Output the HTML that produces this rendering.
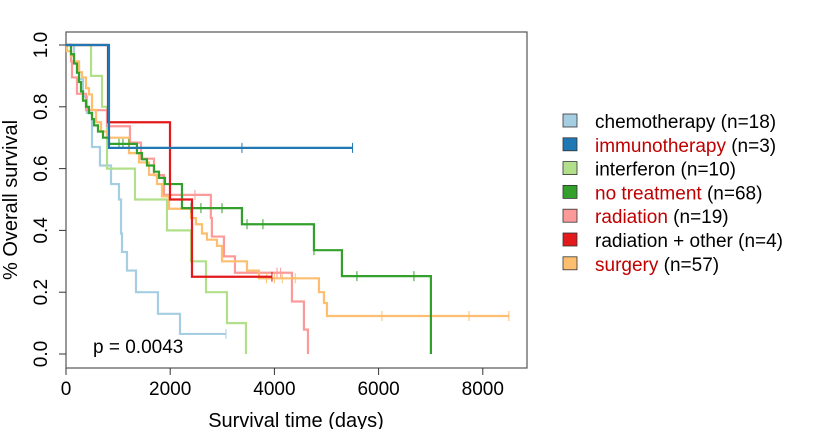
<!DOCTYPE html>
<html><head><meta charset="utf-8"><style>
body{margin:0;background:#fff;width:820px;height:429px;overflow:hidden}
text{font-family:"Liberation Sans",Arial,sans-serif}
</style></head><body>
<svg id="chart" width="820" height="429" xmlns="http://www.w3.org/2000/svg">
<rect x="66" y="32" width="461" height="336" fill="none" stroke="#555" stroke-width="1.2"/>
<g id="axes"></g><g id="curves"></g><g id="legend"></g>
<text x="93" y="353" font-size="19">p = 0.0043</text>
<text x="296" y="427" font-size="20" text-anchor="middle">Survival time (days)</text>
<text transform="translate(17,200) rotate(-90)" font-size="20" text-anchor="middle">% Overall survival</text>
</svg>
<script>
const xTicks=[0,2000,4000,6000,8000];
const yTicks=[0,0.2,0.4,0.6,0.8,1.0];
const groups=["chemotherapy","immunotherapy","interferon","no treatment","radiation","radiation + other","surgery"];
const counts=[18,3,10,68,19,4,57];
const colors=["#a6cee3","#1f78b4","#b2df8a","#33a02c","#fb9a99","#e31a1c","#fdbf6f"];
const redName=[false,true,false,true,true,false,true];
const chemoT=[154,250,326,403,499,652,864,1017,1056,1075,1171,1343,1765,2188];
const chemoS=[0.944,0.889,0.833,0.78,0.67,0.61,0.55,0.5,0.39,0.33,0.27,0.2,0.13,0.065];
const chemoEnd=3070, chemoC=[3070];
const immT=[825], immS=[0.667], immEnd=5500, immC=[3377,5500];
const ifnT=[480,691,787,1324,1938,2399,2687,3090,3454];
const ifnS=[0.9,0.8,0.6,0.5,0.4,0.3,0.2,0.1,0];
const ifnEnd=3454, ifnC=[];
const noT=[96,154,211,250,288,326,384,441,499,537,614,710,825,1362,1458,1554,1689,1785,1900,2226,3377,4759,5296,7004];
const noS=[0.97,0.94,0.91,0.88,0.85,0.82,0.80,0.78,0.76,0.74,0.72,0.70,0.68,0.65,0.63,0.61,0.59,0.57,0.55,0.472,0.42,0.336,0.252,0];
const noEnd=7004, noC=[1017,1094,1209,2400,2590,2994,3474,3780,4759,5584,6678];
const radT=[96,115,211,384,787,1228,1439,1689,1880,2780,2800,3032,3243,4337,4567,4644];
const radS=[0.947,0.895,0.842,0.789,0.737,0.684,0.632,0.579,0.515,0.44,0.38,0.316,0.263,0.17,0.079,0];
const radEnd=4644, radC=[2475,4050,4120];
const rotT=[806,1996,2418], rotS=[0.75,0.5,0.25], rotEnd=3953, rotC=[3953];
const surT=[19,96,154,250,307,384,441,499,576,672,787,1209,1401,1593,1746,1842,1977,2399,2495,2610,2706,2898,2994,3474,3704,4855,4951,5009];
const surS=[0.98,0.965,0.947,0.912,0.895,0.86,0.84,0.79,0.75,0.72,0.70,0.65,0.62,0.58,0.55,0.51,0.47,0.44,0.42,0.39,0.37,0.35,0.30,0.27,0.245,0.2,0.165,0.123];
const surEnd=8500, surC=[3850,4000,4150,4400,6064,7734,8500];

const NS="http://www.w3.org/2000/svg";
const X=t=>66+t*0.0521, Y=s=>354-s*309;
function mk(tag,attrs,parent){const e=document.createElementNS(NS,tag);for(const k in attrs)e.setAttribute(k,attrs[k]);parent.appendChild(e);return e;}
const ax=document.getElementById('axes');
xTicks.forEach(v=>{
  const l=mk('line',{x1:X(v),x2:X(v),y1:368,y2:375,stroke:'#333'},ax);
  
  
  const t=mk('text',{x:X(v),y:395,'font-size':19,'text-anchor':'middle'},ax);t.textContent=v;
  
  
});
yTicks.forEach(v=>{
  const l=mk('line',{x1:59,x2:66,y1:Y(v),y2:Y(v),stroke:'#333'},ax);
  
  
  const t=mk('text',{transform:`translate(47,${Y(v)}) rotate(-90)`,'font-size':19,'text-anchor':'middle'},ax);t.textContent=v.toFixed(1);
  
  
});
const cv=document.getElementById('curves');
const series=[[chemoT,chemoS,chemoEnd,chemoC],[immT,immS,immEnd,immC],[ifnT,ifnS,ifnEnd,ifnC],[noT,noS,noEnd,noC],[radT,radS,radEnd,radC],[rotT,rotS,rotEnd,rotC],[surT,surS,surEnd,surC]];
const order=[0,2,4,6,3,5,1];
order.forEach(i=>{
  const [T,S,end,C]=series[i];
  let d=`M${X(0)},${Y(1)}`;
  const sAt=t=>{let v=1;for(let k=0;k<T.length;k++)if(T[k]<=t)v=S[k];return v;};
  for(let k=0;k<T.length;k++){d+=`H${X(T[k])}V${Y(S[k])}`;}
  d+=`H${X(end)}`;
  const p=mk('path',{d:d,fill:'none',stroke:colors[i],'stroke-width':2.2},cv);
  
  
  C.forEach(c=>{
    const m=mk('line',{x1:X(c),x2:X(c),y1:Y(sAt(c))-5,y2:Y(sAt(c))+5,stroke:colors[i],'stroke-width':1},cv);
    
    
  });
});
const lg=document.getElementById('legend');
groups.forEach((g,i)=>{
  const y=121+i*23.8;
  const r=mk('rect',{x:563,y:y-7,width:14,height:13,fill:colors[i],stroke:'#333','stroke-width':0.8},lg);
  
  
  const t=mk('text',{x:595,y:y+7,'font-size':19},lg);
  
  
  const a=mk('tspan',{fill:redName[i]?'#c00000':'#000'},t);a.textContent=g;
  const b=mk('tspan',{fill:'#000'},t);b.textContent=` (n=${counts[i]})`;
});
</script>
</body></html>
